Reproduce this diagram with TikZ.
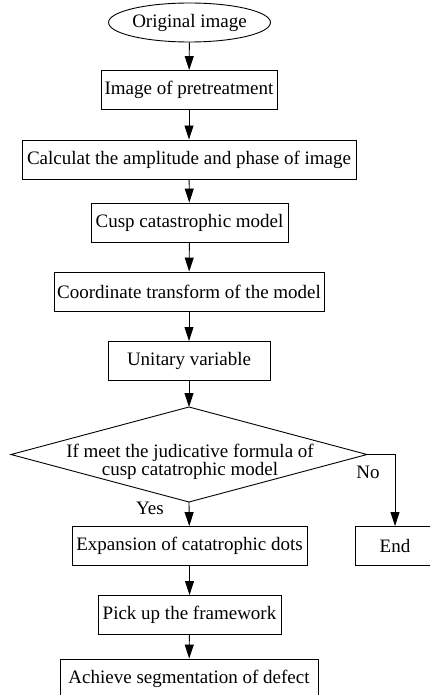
\documentclass[tikz,border=0pt]{standalone}
\usepackage{fontspec}
\setmainfont{Liberation Serif}
\usetikzlibrary{positioning,arrows.meta,shapes.geometric}

\begin{document}
\begin{tikzpicture}[
    x=1pt, y=-1pt,
    every node/.style={font=\fontsize{19}{18.5}\selectfont},
    stepbox/.style={rectangle, draw, line width=0.9pt, minimum height=39pt, inner sep=0pt},
    flow/.style={-{Triangle[length=14pt,width=9pt]}, line width=0.9pt},
]
\clip (0,0) rectangle (430,695);

% Start
\node[ellipse, draw, line width=0.9pt, minimum width=147pt, minimum height=39pt, inner sep=0pt] (orig) at (189.5,22.5) {Original image};

% Process steps
\node[stepbox, minimum width=176pt] (pre) at (189,90) {Image of pretreatment};
\node[stepbox, minimum width=334pt] (calc) at (189,159.5) {Calculat the amplitude and phase of image};
\node[stepbox, minimum width=197pt] (cusp) at (189.5,222.5) {Cusp catastrophic model};
\node[stepbox, minimum width=270pt] (coord) at (189,291.5) {Coordinate transform of the model};
\node[stepbox, minimum width=162pt] (unit) at (189,361) {Unitary variable};

% Decision
\coordinate (dtop) at (189,407);
\coordinate (dleft) at (11,454.5);
\coordinate (dright) at (367,454.5);
\coordinate (dbot) at (189,502);
\draw[line width=0.9pt] (dtop) -- (dright) -- (dbot) -- (dleft) -- cycle;
\node[align=center, inner sep=0pt] (judge) at (190,462) {If meet the judicative formula of\\cusp catatrophic model};

% After decision
\node[stepbox, minimum width=235pt] (expand) at (189.5,546) {Expansion of catatrophic dots};
\node[stepbox, minimum width=183pt] (pick) at (189.5,615) {Pick up the framework};
\node[stepbox, minimum width=258pt] (achieve) at (189,678.5) {Achieve segmentation of defect};
\node[stepbox, minimum width=80pt] (end) at (395,546) {End};

% Labels
\node (yes) at (150,508) {Yes};
\node (no) at (368,472) {No};

% Connections
\draw[flow] (orig) -- (pre);
\draw[flow] (pre) -- (calc);
\draw[flow] (calc) -- (cusp);
\draw[flow] (cusp) -- (coord);
\draw[flow] (coord) -- (unit);
\draw[flow] (unit) -- (dtop);
\draw[flow] (dbot) -- (expand);
\draw[flow] (expand) -- (pick);
\draw[flow] (pick) -- (achieve);
\draw[flow] (dright) -| (end);

\end{tikzpicture}
\end{document}
